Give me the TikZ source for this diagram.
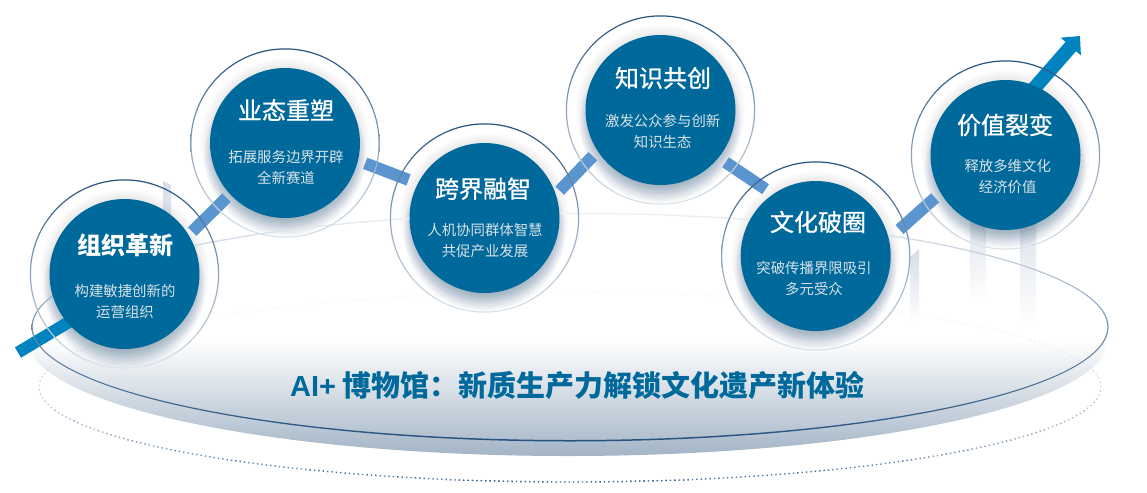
\documentclass[tikz,border=0pt]{standalone}
\usepackage{fontspec}
\setmainfont{Noto Sans CJK SC}
\newfontfamily\headlatin{Liberation Sans}
\newfontfamily\lighttitle[FakeBold=0.8]{Noto Sans CJK SC}
\usetikzlibrary{arrows.meta}
\definecolor{stageblue}{HTML}{00699B}
\definecolor{stagebar}{HTML}{5B95D0}
\definecolor{startbar}{HTML}{0084BF}
\definecolor{ringdark}{HTML}{26527F}
\definecolor{ringmid}{HTML}{8EA4BB}
\definecolor{ringpale}{HTML}{DCE3EA}
\definecolor{subtext}{HTML}{D9E2E8}
\definecolor{shadowtone}{HTML}{5A7896}
\definecolor{dishtone}{HTML}{A3B4C6}
\definecolor{linepale}{HTML}{F0F3F7}
\definecolor{linemid}{HTML}{7390AD}
\definecolor{dotnavy}{HTML}{2A5A88}
\definecolor{palebar}{HTML}{D6DEE8}
\tikzset{
  stagespot/.style={circle,minimum size=150pt,inner sep=0pt,outer sep=5pt},
  stagedisc/.style={circle,minimum size=150pt,inner sep=0pt,fill=stageblue},
  linkbar/.style={line width=12pt,draw=stagebar},
  stagetitle/.style={text=white,font=\fontsize{24}{24}\selectfont\bfseries},
  serifs/.style={text=white,font=\fontsize{24}{24}\selectfont\lighttitle},
  stagesub/.style={text=subtext,align=center,font=\fontsize{14.4}{21}\selectfont}
}
\begin{document}
\begin{tikzpicture}[x=1pt,y=-1pt]
  \useasboundingbox (0,0) rectangle (1147,492);
  \fill[white] (0,0) rectangle (1147,492);
  \coordinate (dishmid) at (568,340);
  \coordinate (platemid) at (570,327);
  \coordinate (dotmid) at (570,387);
  % dish under the plate
  \shade[top color=white,bottom color=dishtone,middle color=white] (dishmid) ellipse [x radius=540pt,y radius=116pt];
  % dotted ring, darker to the bottom
  \foreach \yy in {290,300,...,490}{
    \pgfmathtruncatemacro\dotmix{min(100,5+90*((\yy-292)/190)^2)}
    \begin{scope}
      \clip (0,\yy) rectangle (1147,\yy+10);
      \draw[dotnavy!\dotmix!white,line width=1.4pt,dash pattern=on 1.4pt off 3pt] (dotmid) ellipse [x radius=531pt,y radius=95pt];
    \end{scope}
  }
  % pale columns
  \shade[top color=palebar,bottom color=palebar!60] (163,181) -- (171,185) -- (171,225) -- (163,225) -- cycle;
  \shade[top color=palebar,bottom color=white] (910,257) -- (919,249) -- (919,325) -- (910,325) -- cycle;
  \shade[top color=palebar,bottom color=white] (970,200) rectangle (986,300);
  \shade[top color=palebar,bottom color=white] (1020,200) rectangle (1036,325);
  % places of the stages
  \foreach \nm/\cx/\cy in {zuzhi/124.5/274,yetai/285/143,kuajie/484.5/218,zhishi/660.5/110,wenhua/815.7/256,jiazhi/1005.5/155}{
    \node[stagespot] (\nm) at (\cx,\cy) {};
  }
  % soft shadows
  \foreach \nm in {zuzhi,yetai,kuajie,zhishi,wenhua,jiazhi}{
    \foreach \r in {60,61,...,81}{
      \fill[shadowtone,opacity=.03] ([yshift=-12pt]\nm.center) circle (\r pt);
    }
    \foreach \r in {76,77,...,85}{
      \fill[shadowtone,opacity=.012] (\nm.center) circle (\r pt);
    }
  }
  % links
  \coordinate (startend) at (18,352.5);
  \coordinate (arrowend) at (1080,36);
  \draw[line width=12pt,draw=startbar,shorten >=-8pt] (startend) -- (zuzhi.220);
  \draw[line width=14pt,draw=startbar,shorten <=-10pt,-{Triangle[length=14pt,width=26pt,fill=startbar]}] (jiazhi.65) -- (arrowend);
  \draw[linkbar] (zuzhi.32.5) -- (yetai.223);
  \draw[linkbar,shorten <=2.7pt,shorten >=5pt] (yetai.-14.7) -- (kuajie.153.6);
  \draw[linkbar,shorten >=2pt] (kuajie.20.6) -- (zhishi.214.3);
  \draw[linkbar,shorten <=3.5pt,shorten >=3.7pt] (zhishi.-39) -- (wenhua.126.4);
  \draw[linkbar,shorten <=8.7pt,shorten >=2.3pt] (wenhua.15.2) -- (jiazhi.211.7);
  % plate outline
  \shade[even odd rule,top color=linepale,bottom color=ringdark,middle color=linemid]
    (platemid) ellipse [x radius=538.5pt,y radius=114.5pt]
    (platemid) ellipse [x radius=537.3pt,y radius=113pt];
  % rings, discs and texts
  \foreach \nm/\ttl/\tstyle/\tx/\ty/\sx/\sy/\subtop/\subend in {
    zuzhi/组织革新/stagetitle/125/245.7/125/301.5/构建敏捷创新的/运营组织,
    yetai/业态重塑/serifs/286/110/286/167.5/拓展服务边界开辟/全新赛道,
    kuajie/跨界融智/serifs/483/188.7/485/240.5/人机协同群体智慧/共促产业发展,
    zhishi/知识共创/serifs/663/78/662.7/131.5/激发公众参与创新/知识生态,
    wenhua/文化破圈/serifs/818/222/814/278.5/突破传播界限吸引/多元受众,
    jiazhi/价值裂变/serifs/1005/125/1007.7/177/释放多维文化/经济价值}{
    \shade[even odd rule,top color=ringdark,bottom color=ringpale,middle color=ringmid]
      (\nm.center) circle (94.7pt) (\nm.center) circle (93.5pt);
    \node[stagedisc] (\nm disc) at (\nm.center) {};
    \node[\tstyle] (\nm title) at (\tx,\ty) {\ttl};
    \node[stagesub] (\nm sub) at (\sx,\sy) {\subtop\\\subend};
  }
  \node[anchor=west,inner sep=0pt,text=stageblue,font=\fontsize{29}{30}\selectfont\bfseries] (headline) at (290,385) {{\headlatin AI+}\hspace{6pt}博物馆：新质生产力解锁文化遗产新体验};
\end{tikzpicture}
\end{document}
